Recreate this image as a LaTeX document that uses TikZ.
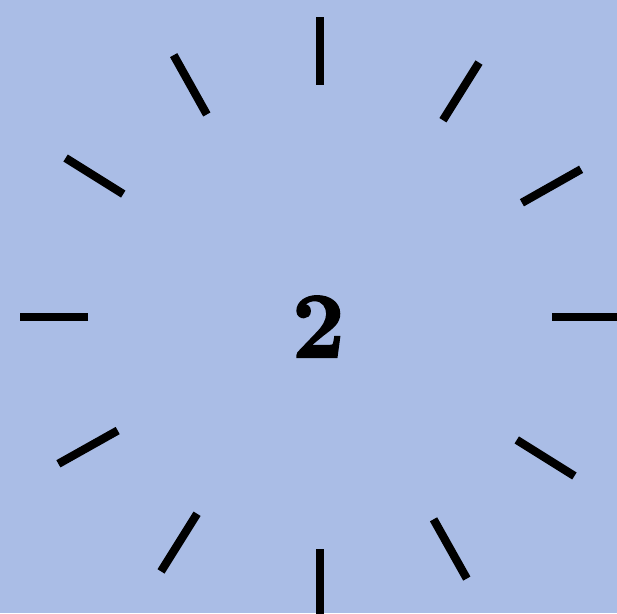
\documentclass[tikz,border=0pt]{standalone}
\usepackage{amsmath}
\usepackage{amssymb}
\usetikzlibrary{calc}

\definecolor{dialbg}{RGB}{170,189,230}

\begin{document}
\begin{tikzpicture}[scale=1]
  \fill[dialbg] (0,0) rectangle (15.425,15.325);
  \useasboundingbox (0,0) rectangle (15.425,15.325);
  \clip (0,0) rectangle (15.425,15.325);

  \coordinate (centre) at (8.0,7.4);

  % ticks
  \foreach \a in {0,29.5,58,90,119.2,148,180,209.3,238,270,299.3,328}
    \draw[line width=5.9pt] ($(centre)+(\a:5.8)$) -- ($(centre)+(\a:7.5)$);

  \node (hour) at (7.96,7.16) {\fontsize{66}{70}\selectfont\bfseries
    \special{pdf:literal 2 Tr 1.6 w}2\special{pdf:literal 0 Tr}};
\end{tikzpicture}
\end{document}
